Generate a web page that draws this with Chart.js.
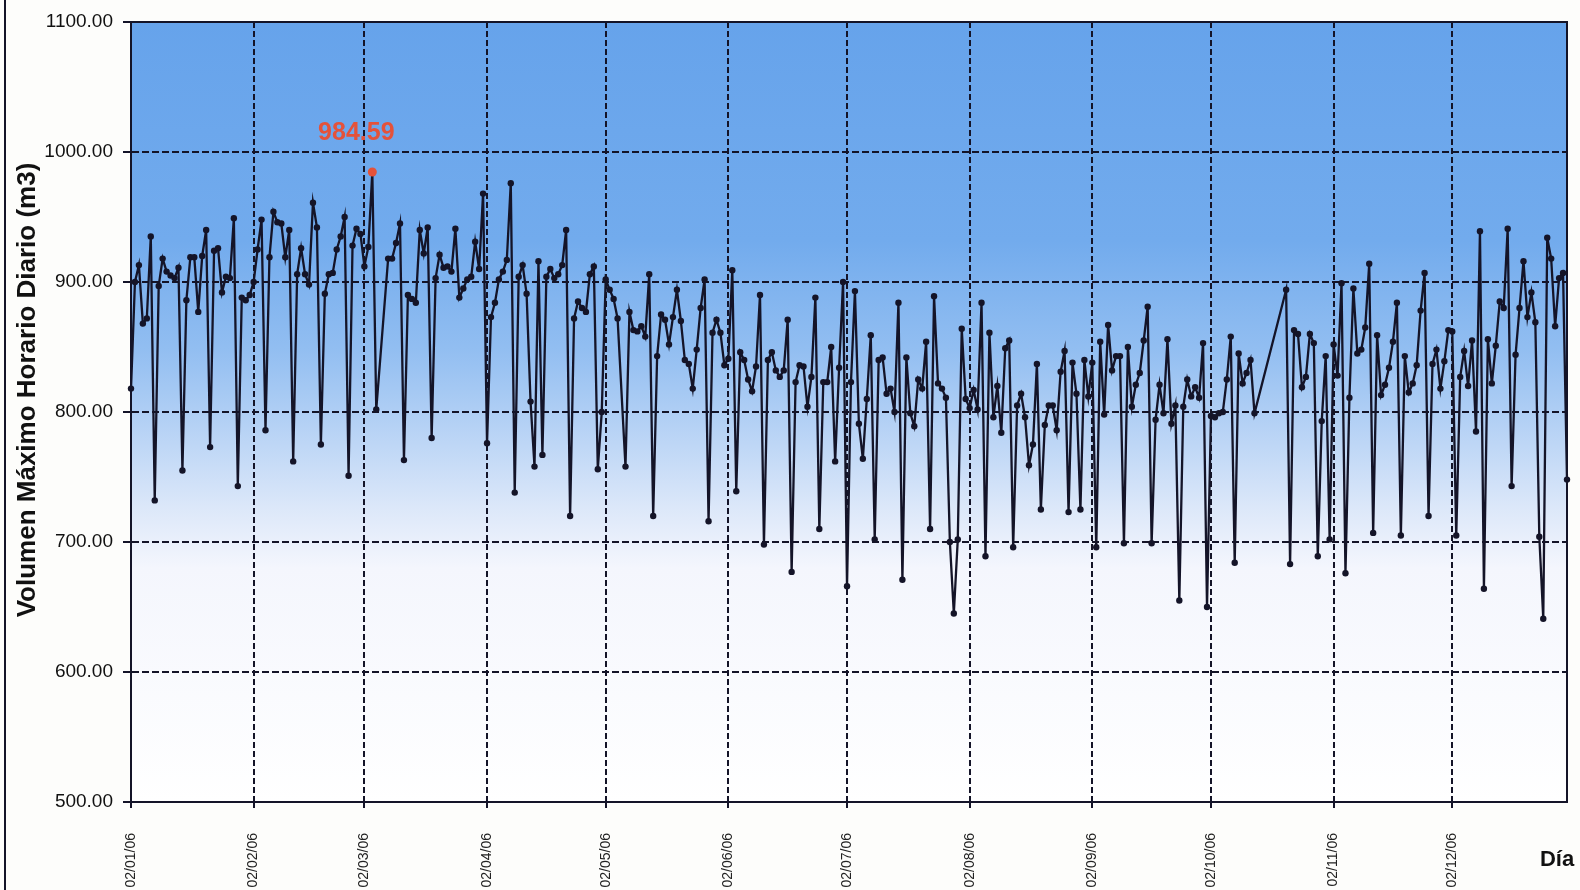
<!DOCTYPE html>
<html lang="es">
<head>
<meta charset="utf-8">
<title>Volumen Máximo Horario Diario</title>
<script src="https://cdn.jsdelivr.net/npm/chart.js@4.4.1/dist/chart.umd.min.js"></script>
<style>
    html, body { margin: 0; padding: 0; background: #fdfdfb; }
    #wrap { width: 1580px; height: 890px; }
</style>
</head>
<body>
<div id="wrap"><canvas id="chartVolumen" width="1580" height="890"></canvas></div>
<script>
// Valores diarios 2006 (m3). null = dia sin dato
const ene = [818, 900, 913, 868, 872, 935, 732, 897, 918, 908, 905, 903, 911, 755, 886, 919, 919, 877, 920, 940,
             773, 924, 926, 892, 904, 903, 949, 743, 888, 886];
const feb = [890, 900, 925, 948, 786, 919, 954, 946, 945, 919, 940, 762, 906, 926, 906, 898, 961, 942, 775, 891,
             906, 907, 925, 935, 950, 751, 928, 941];
const mar = [937, 912, 927, 984.59, 802, null, null, 918, 918, 930, 945, 763, 890, 887, 884, 940, 922, 942, 780, 903,
             921, 911, 912, 908, 941, 888, 895, 902, 904, 931, 910];
const abr = [968, 776, 873, 884, 902, 908, 917, 976, 738, 904, 913, 891, 808, 758, 916, 767, 904, 910, 903, 906,
             913, 940, 720, 872, 885, 880, 877, 906, 912, 756];
const may = [800, 902, 894, 887, 872, null, 758, 877, 863, 862, 866, 858, 906, 720, 843, 875, 871, 852, 873, 894,
             870, 840, 837, 818, 848, 880, 902, 716, 861, 871, 861];
const jun = [836, 841, 909, 739, 846, 840, 825, 816, 835, 890, 698, 840, 846, 832, 827, 832, 871, 677, 823, 836,
             835, 804, 827, 888, 710, 823, 823, 850, 762, 834];
const jul = [900, 666, 823, 893, 791, 764, 810, 859, 702, 840, 842, 814, 818, 800, 884, 671, 842, 799, 789, 825,
             818, 854, 710, 889, 822, 818, 811, 700, 645, 702, 864];
const ago = [810, 803, 817, 802, 884, 689, 861, 796, 820, 784, 849, 855, 696, 805, 814, 796, 759, 775, 837, 725,
             790, 805, 805, 786, 831, 847, 723, 838, 814, 725, 840];
const sep = [812, 838, 696, 854, 798, 867, 832, 843, 843, 699, 850, 804, 821, 830, 855, 881, 699, 794, 821, 799,
             856, 791, 805, 655, 804, 825, 812, 819, 811, 853];
const oct = [650, 797, 796, 799, 800, 825, 858, 684, 845, 822, 830, 840, 799, null, null, null, null, null, null, null,
             894, 683, 863, 860, 819, 827, 860, 853, 689, 793, 843];
const nov = [702, 852, 828, 899, 676, 811, 895, 845, 848, 865, 914, 707, 859, 813, 821, 834, 854, 884, 705, 843,
             815, 822, 836, 878, 907, 720, 837, 848, 818, 839];
const dic = [863, 862, 705, 827, 847, 820, 855, 785, 939, 664, 856, 822, 851, 885, 880, 941, 743, 844, 880, 916,
             873, 892, 869, 704, 641, 934, 918, 866, 903, 907, 748];

const meses = [ene, feb, mar, abr, may, jun, jul, ago, sep, oct, nov, dic];
const primerDia = [2, 1, 1, 1, 1, 1, 1, 1, 1, 1, 1, 1];
const yTicks = [500, 600, 700, 800, 900, 1000, 1100];

const pad = n => String(n).padStart(2, '0');

// Etiquetas dd/mm/yy y serie completa
const labels = [];
const valores = [];
meses.forEach((arr, m) => {
    arr.forEach((v, i) => {
        labels.push(`${pad(primerDia[m] + i)}/${pad(m + 1)}/06`);
        valores.push(v);
    });
});

const maxValor = Math.max(...valores.filter(v => v !== null));
const idxMax = valores.indexOf(maxValor);

const FONT = "'Liberation Sans', Arial, sans-serif";
const LINEA = '#141428';

/**
 * Fondo degradado del area de grafico
 */
const fondoPlugin = {
    id: 'fondo',
    beforeDraw(chart) {
        const { ctx, chartArea: a } = chart;
        const g = ctx.createLinearGradient(0, a.top, 0, a.bottom);
        g.addColorStop(0, '#66a3eb');
        g.addColorStop(0.28, '#72abed');
        g.addColorStop(0.42, '#92bef1');
        g.addColorStop(0.52, '#b6d2f5');
        g.addColorStop(0.62, '#dbe7f9');
        g.addColorStop(0.7, '#f4f6fd');
        g.addColorStop(1, '#ffffff');
        ctx.save();
        ctx.fillStyle = g;
        ctx.fillRect(a.left, a.top, a.right - a.left, a.bottom - a.top);
        ctx.restore();
    }
};

/**
 * Marco, titulos y etiqueta del maximo
 */
const textosPlugin = {
    id: 'textos',
    afterDraw(chart) {
        const { ctx, chartArea: a } = chart;
        ctx.save();

        // Marco del area de trazado
        ctx.strokeStyle = LINEA;
        ctx.lineWidth = 2;
        ctx.strokeRect(a.left, a.top, a.right - a.left, a.bottom - a.top);

        // Borde izquierdo del grafico
        ctx.beginPath();
        ctx.moveTo(5, 0);
        ctx.lineTo(5, 890);
        ctx.stroke();

        // Titulo eje Y
        ctx.fillStyle = '#111';
        ctx.font = `bold 26px ${FONT}`;
        ctx.textAlign = 'center';
        ctx.textBaseline = 'middle';
        ctx.translate(28, 390);
        ctx.rotate(-Math.PI / 2);
        ctx.fillText('Volumen Máximo Horario Diario (m3)', 0, 0);
        ctx.setTransform(1, 0, 0, 1, 0, 0);

        // Titulo eje X
        ctx.font = `bold 22px ${FONT}`;
        ctx.fillText('Día', 1557, 860);

        // Etiqueta del maximo
        const pt = chart.getDatasetMeta(0).data[idxMax];
        if (pt) {
            ctx.fillStyle = '#e4523a';
            ctx.font = `bold 25px ${FONT}`;
            ctx.fillText(maxValor.toFixed(2), pt.x - 16, pt.y - 39);
        }
        ctx.restore();
    }
};

const ctx = document.getElementById('chartVolumen').getContext('2d');

new Chart(ctx, {
    type: 'line',
    data: {
        labels,
        datasets: [{
            label: 'Volumen Máximo Horario Diario',
            data: valores,
            borderColor: LINEA,
            borderWidth: 2.3,
            tension: 0,
            spanGaps: true,
            pointRadius: c => c.dataIndex === idxMax ? 4.5 : 3.2,
            pointBackgroundColor: c => c.dataIndex === idxMax ? '#e4523a' : LINEA,
            pointBorderColor: c => c.dataIndex === idxMax ? '#e4523a' : LINEA,
            pointBorderWidth: 0
        }]
    },
    options: {
        responsive: false,
        animation: false,
        devicePixelRatio: 1,
        layout: { padding: { top: 22, right: 13, left: 0, bottom: 0 } },
        plugins: {
            legend: { display: false },
            tooltip: { enabled: false }
        },
        scales: {
            x: {
                type: 'category',
                offset: false,
                afterFit: s => { s.height = 88; },
                grid: {
                    color: LINEA,
                    lineWidth: 2,
                    tickLength: 6,
                    tickColor: LINEA
                },
                border: { display: true, color: LINEA, width: 2, dash: [6, 3] },
                ticks: {
                    autoSkip: false,
                    minRotation: 90,
                    maxRotation: 90,
                    padding: 25,
                    color: '#222',
                    font: { family: FONT, size: 14 },
                    callback: function (val) {
                        const l = this.getLabelForValue(val);
                        return l.startsWith('02/') ? l : null;
                    }
                }
            },
            y: {
                min: 500,
                max: 1100,
                afterFit: s => { s.width = 131; },
                afterBuildTicks: s => { s.ticks = yTicks.map(v => ({ value: v })); },
                grid: {
                    color: LINEA,
                    lineWidth: 2,
                    tickLength: 8,
                    tickColor: LINEA
                },
                border: { display: true, color: LINEA, width: 2, dash: [7, 3] },
                ticks: {
                    padding: 10,
                    color: '#111',
                    font: { family: FONT, size: 19 },
                    callback: v => Number(v).toFixed(2)
                }
            }
        }
    },
    plugins: [fondoPlugin, textosPlugin]
});
</script>
</body>
</html>
